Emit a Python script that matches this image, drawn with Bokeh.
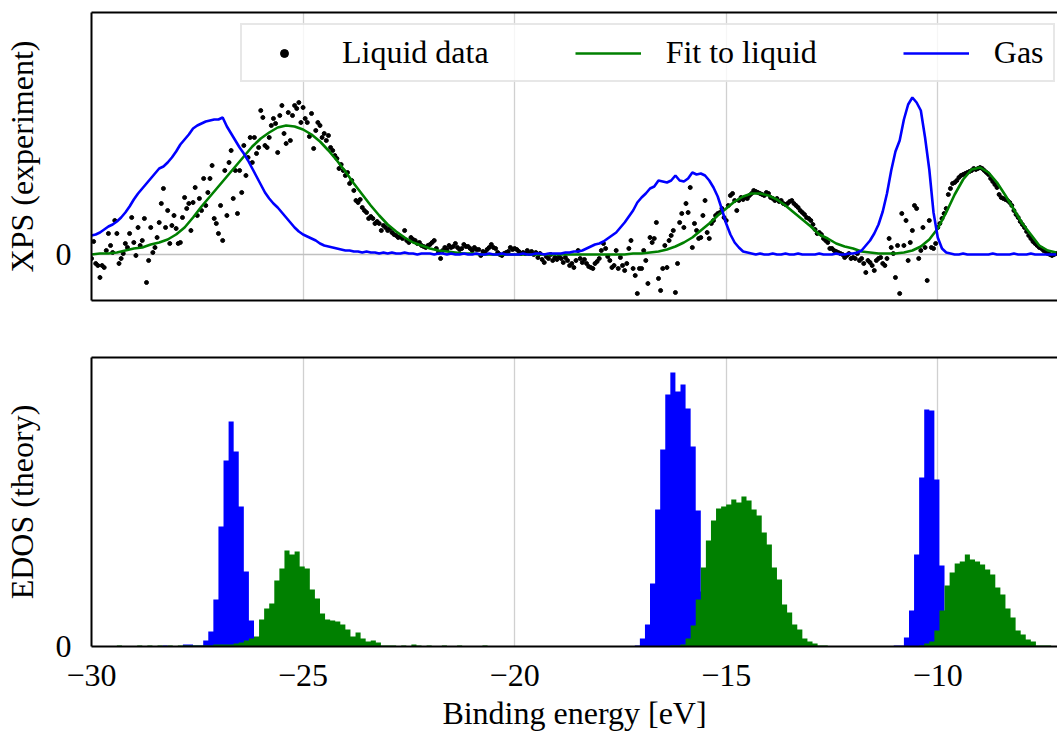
import numpy as np
from bokeh.plotting import figure
from bokeh.models import Range1d, FixedTicker, LinearAxis, Legend, LegendItem, ColumnDataSource
from bokeh.layouts import column
from bokeh.embed import file_html
from bokeh.resources import INLINE

FONT = "'Liberation Serif', 'DejaVu Serif', serif"
FS = "32px"

# ---------------- data ----------------
x_ticks = [-30, -25, -20, -15, -10]
x_tick_labels = ["\u221230", "\u221225", "\u221220", "\u221215", "\u221210"]
X_START, X_END = -30.0, -7.17

# liquid XPS data, energy grid -30.00 ... -7.20 eV, step 0.05 eV (one row = 1 eV)
liquid_start, liquid_step = -30.0, 0.05
liquid_y = [
    -0.04, 0.13, -0.09, -0.11, -0.23, -0.11, -0.13, 0.04, 0.21, 0.09, 0.02, 0.34, 0.21, -0.09, -0.04, 0.01, 0.11, 0.07, 0.21, 0.37,
    0.12, -0.01, 0.27, 0.09, 0.14, 0.36, -0.28, -0.06, 0.27, 0.02, 0.07, 0.17, 0.32, 0.51, 0.66, 0.27, 0.44, 0.11, 0.29, 0.39,
    0.26, 0.11, 0.12, 0.37, 0.57, 0.46, 0.51, 0.24, 0.52, 0.67, 0.39, 0.56, 0.44, 0.76, 0.49, 0.62, 0.76, 0.89, 0.36, 0.31,
    0.21, 0.49, 0.14, 0.84, 0.39, 0.92, 1.04, 0.56, 0.84, 0.41, 0.84, 0.62, 1.09, 0.79, 0.97, 1.17, 0.92, 1.17, 1.01, 1.07,
    1.44, 1.37, 1.09, 1.07, 1.17, 1.29, 1.36, 1.31, 1.02, 1.39, 1.49, 1.21, 1.11, 1.42, 1.14, 1.39, 1.49, 1.46, 1.52, 1.32,
    1.47, 1.36, 1.32, 1.18, 1.41, 1.06, 1.24, 1.32, 1.29, 1.17, 1.21, 1.14, 1.19, 1.07, 1.04, 0.99, 0.96, 0.86, 0.90, 0.84,
    0.79, 0.82, 0.71, 0.74, 0.64, 0.54, 0.52, 0.55, 0.47, 0.44, 0.42, 0.36, 0.38, 0.36, 0.31, 0.33, 0.31, 0.24, 0.29, 0.27,
    0.24, 0.26, 0.22, 0.20, 0.19, 0.17, 0.18, 0.16, 0.24, 0.14, 0.12, 0.17, 0.15, 0.14, 0.11, 0.12, 0.09, 0.08, 0.07, 0.09,
    0.10, 0.12, 0.14, 0.06, 0.02, -0.04, 0.04, 0.07, 0.05, 0.09, 0.07, 0.08, 0.11, 0.07, 0.05, 0.06, 0.10, 0.08, 0.08, 0.06,
    0.04, 0.07, 0.05, 0.05, -0.01, 0.03, 0.02, 0.05, 0.07, 0.10, 0.07, 0.06, 0.02, 0.00, -0.01, 0.01, 0.02, 0.03, 0.07, 0.05,
    0.06, 0.05, 0.03, 0.01, 0.02, 0.01, 0.04, 0.01, 0.03, 0.00, 0.02, -0.03, 0.01, -0.05, -0.08, -0.02, -0.04, 0.00, -0.06, -0.03,
    -0.05, -0.02, -0.04, -0.08, -0.03, -0.06, -0.11, -0.09, -0.13, -0.06, 0.04, -0.04, -0.08, -0.05, -0.09, -0.12, -0.13, -0.14, -0.09, -0.07,
    -0.04, 0.04, 0.11, 0.06, -0.02, -0.06, -0.13, -0.11, 0.04, -0.14, -0.03, -0.11, -0.16, -0.09, 0.06, 0.14, -0.14, -0.21, -0.39, -0.14,
    -0.14, 0.04, -0.06, -0.29, 0.17, 0.12, 0.16, 0.32, -0.24, -0.36, -0.14, 0.09, -0.13, 0.14, 0.19, 0.24, -0.38, -0.09, 0.32, 0.41,
    0.27, 0.51, 0.42, 0.67, 0.07, 0.31, 0.24, 0.16, 0.17, 0.39, 0.54, 0.22, 0.16, 0.31, 0.34, 0.39, 0.41, 0.42, 0.46, 0.37,
    0.34, 0.49, 0.59, 0.61, 0.54, 0.44, 0.54, 0.57, 0.55, 0.57, 0.56, 0.59, 0.61, 0.64, 0.63, 0.62, 0.61, 0.60, 0.59, 0.62,
    0.61, 0.57, 0.56, 0.54, 0.56, 0.53, 0.54, 0.51, 0.50, 0.51, 0.53, 0.54, 0.51, 0.49, 0.47, 0.44, 0.42, 0.40, 0.37, 0.36,
    0.34, 0.30, 0.25, 0.21, 0.22, 0.20, 0.16, 0.14, 0.12, 0.06, 0.06, 0.04, 0.03, 0.02, 0.01, 0.00, -0.03, -0.01, 0.01, -0.04,
    -0.03, -0.04, 0.01, -0.06, -0.04, -0.09, -0.18, -0.06, -0.08, -0.11, -0.16, -0.06, -0.04, -0.03, -0.09, -0.11, -0.04, 0.16, 0.07, 0.01,
    -0.23, 0.09, -0.39, 0.41, 0.09, 0.34, -0.06, 0.12, 0.24, 0.49, 0.46, -0.04, 0.04, 0.27, 0.07, -0.26, 0.34, 0.07, 0.06, 0.11,
    0.27, 0.31, 0.36, 0.41, 0.46, 0.60, 0.66, 0.71, 0.72, 0.74, 0.77, 0.79, 0.80, 0.81, 0.82, 0.83, 0.84, 0.86, 0.85, 0.86,
    0.87, 0.86, 0.84, 0.82, 0.80, 0.76, 0.73, 0.70, 0.67, 0.60, 0.57, 0.56, 0.55, 0.54, 0.52, 0.49, 0.44, 0.40, 0.37, 0.33,
    0.30, 0.27, 0.23, 0.19, 0.16, 0.13, 0.11, 0.09, 0.07, 0.06, 0.04, 0.03, 0.01, 0.00, -0.01, 0.00, 0.01,
]

# fit to liquid, grid -30.0 ... -7.2 eV, step 0.2 eV (one row = 2 eV)
fit_start, fit_step = -30.0, 0.2
fit_y = [
    0.00, 0.01, 0.01, 0.02, 0.04, 0.06, 0.07, 0.10, 0.12, 0.15,
    0.20, 0.27, 0.37, 0.48, 0.58, 0.68, 0.78, 0.88, 0.98, 1.08,
    1.16, 1.22, 1.27, 1.29, 1.28, 1.25, 1.20, 1.13, 1.04, 0.94,
    0.83, 0.71, 0.60, 0.49, 0.39, 0.30, 0.23, 0.17, 0.12, 0.09,
    0.06, 0.04, 0.03, 0.02, 0.01, 0.01, 0.00, 0.00, 0.00, 0.00,
    0.00, 0.00, 0.00, 0.00, 0.00, 0.00, 0.00, 0.00, 0.00, 0.00,
    0.00, 0.00, 0.00, 0.00, 0.01, 0.01, 0.02, 0.03, 0.05, 0.08,
    0.12, 0.17, 0.24, 0.31, 0.39, 0.46, 0.53, 0.58, 0.61, 0.61,
    0.59, 0.55, 0.49, 0.42, 0.35, 0.28, 0.20, 0.16, 0.11, 0.08,
    0.06, 0.03, 0.02, 0.01, 0.01, 0.01, 0.02, 0.04, 0.08, 0.15,
    0.26, 0.42, 0.60, 0.75, 0.85, 0.87, 0.82, 0.72, 0.59, 0.45,
    0.31, 0.20, 0.09, 0.04, 0.02,
]

# gas-phase spectrum, grid -30.0 ... -7.2 eV, step 0.1 eV (one row = 1 eV)
gas_start, gas_step = -30.0, 0.1
gas_y = [
    0.19, 0.20, 0.22, 0.25, 0.28, 0.30, 0.33, 0.37, 0.42, 0.48,
    0.55, 0.61, 0.66, 0.71, 0.76, 0.81, 0.86, 0.88, 0.92, 0.97,
    1.03, 1.10, 1.15, 1.20, 1.26, 1.29, 1.31, 1.33, 1.34, 1.35,
    1.35, 1.37, 1.28, 1.21, 1.14, 1.07, 1.01, 0.94, 0.86, 0.78,
    0.70, 0.62, 0.56, 0.51, 0.47, 0.42, 0.37, 0.32, 0.27, 0.23,
    0.20, 0.18, 0.16, 0.14, 0.11, 0.09, 0.08, 0.07, 0.06, 0.05,
    0.04, 0.04, 0.03, 0.03, 0.02, 0.03, 0.02, 0.02, 0.01, 0.02,
    0.01, 0.02, 0.01, 0.01, 0.02, 0.01, 0.01, 0.00, 0.01, 0.01,
    0.01, 0.00, 0.01, 0.01, 0.00, 0.01, 0.00, 0.00, 0.01, 0.00,
    0.00, 0.01, 0.00, 0.00, 0.01, 0.00, 0.00, 0.01, 0.00, 0.00,
    0.00, 0.00, 0.01, 0.00, 0.00, 0.01, 0.01, 0.00, 0.01, 0.01,
    0.01, 0.01, 0.02, 0.02, 0.03, 0.03, 0.04, 0.06, 0.08, 0.10,
    0.11, 0.13, 0.16, 0.19, 0.22, 0.27, 0.32, 0.38, 0.44, 0.52,
    0.57, 0.61, 0.66, 0.68, 0.74, 0.73, 0.72, 0.74, 0.79, 0.74,
    0.73, 0.76, 0.82, 0.80, 0.81, 0.79, 0.74, 0.67, 0.58, 0.45,
    0.31, 0.20, 0.12, 0.07, 0.03, 0.02, 0.01, 0.00, 0.01, 0.00,
    0.00, 0.01, 0.00, 0.00, 0.01, 0.00, 0.00, 0.01, 0.00, 0.00,
    0.00, 0.00, 0.01, 0.00, 0.00, 0.00, 0.01, 0.00, 0.00, 0.01,
    0.01, 0.02, 0.04, 0.09, 0.14, 0.21, 0.30, 0.43, 0.61, 0.84,
    1.03, 1.14, 1.35, 1.50, 1.57, 1.52, 1.44, 1.17, 0.85, 0.42,
    0.17, 0.06, 0.02, 0.01, 0.00, 0.00, 0.01, 0.00, 0.00, 0.00,
    0.00, 0.00, 0.00, 0.01, 0.00, 0.00, 0.00, 0.00, 0.01, 0.00,
    0.00, 0.00, 0.01, 0.00, 0.00, 0.00, 0.00, 0.00, 0.00,
]

# theoretical EDOS histograms, bins of 0.12 eV starting at -30 eV (one row = 10 bins)
bin_start, bin_width = -30.0, 0.12
edos_gas = [
    0, 0, 0, 0, 0, 0, 0, 0, 0, 0,
    0, 0, 0, 0, 1, 0, 0, 0, 2, 2,
    1, 1, 6, 15, 47, 120, 186, 225, 195, 140,
    75, 26, 8, 3, 1, 0, 0, 0, 0, 0,
    0, 0, 0, 0, 0, 0, 0, 0, 0, 0,
    0, 0, 0, 0, 0, 0, 0, 0, 0, 0,
    0, 0, 0, 0, 0, 0, 0, 0, 0, 0,
    0, 0, 0, 0, 0, 0, 0, 0, 0, 0,
    0, 0, 0, 0, 0, 0, 0, 0, 0, 0,
    0, 0, 0, 0, 0, 0, 0, 0, 0, 0,
    0, 0, 0, 0, 0, 0, 0, 1, 8, 22,
    63, 137, 197, 252, 274, 255, 262, 238, 200, 136,
    55, 15, 4, 1, 0, 0, 0, 0, 0, 0,
    0, 0, 0, 0, 0, 0, 0, 0, 0, 0,
    0, 0, 0, 0, 0, 0, 0, 0, 0, 0,
    0, 0, 0, 0, 0, 0, 0, 0, 1, 1,
    9, 36, 92, 169, 237, 236, 167, 81, 25, 6,
    1, 0, 0, 0, 0, 0, 0, 0, 0, 0,
    0, 0, 0, 0, 0, 0, 0, 0, 0, 0,
    0,
]
edos_liquid = [
    0, 0, 0, 0, 0, 1, 0, 0, 0, 1,
    0, 1, 0, 1, 0, 1, 0, 1, 1, 1,
    1, 1, 1, 1, 2, 2, 2, 2, 3, 4,
    6, 8, 10, 27, 38, 43, 66, 78, 96, 92,
    95, 80, 78, 57, 48, 33, 27, 26, 25, 22,
    17, 10, 14, 8, 5, 6, 4, 1, 1, 1,
    0, 1, 0, 2, 1, 0, 1, 0, 0, 1,
    0, 0, 1, 0, 0, 0, 0, 1, 0, 0,
    0, 0, 0, 0, 0, 0, 0, 0, 0, 0,
    0, 0, 0, 0, 0, 0, 0, 0, 0, 0,
    0, 0, 0, 0, 0, 0, 0, 0, 0, 0,
    0, 0, 0, 0, 1, 1, 2, 8, 21, 47,
    79, 106, 126, 138, 140, 142, 147, 144, 150, 146,
    137, 131, 114, 102, 79, 67, 42, 34, 22, 17,
    8, 5, 3, 1, 1, 0, 0, 0, 0, 0,
    0, 0, 0, 0, 0, 0, 0, 0, 0, 0,
    0, 0, 0, 1, 3, 5, 16, 36, 61, 74,
    83, 85, 92, 87, 85, 82, 77, 72, 59, 52,
    38, 29, 16, 12, 7, 5, 1, 1, 1, 0,
    0,
]

# ---------------- helpers ----------------
def style_axis(ax):
    ax.axis_line_color = "black"
    ax.axis_line_width = 2
    ax.major_tick_line_color = None
    ax.minor_tick_line_color = None
    ax.major_tick_in = 0
    ax.major_tick_out = 0
    ax.minor_tick_in = 0
    ax.minor_tick_out = 0
    ax.major_label_text_font = FONT
    ax.major_label_text_font_size = FS
    ax.major_label_text_color = "black"
    ax.axis_label_text_font = FONT
    ax.axis_label_text_font_size = FS
    ax.axis_label_text_font_style = "normal"
    ax.axis_label_text_color = "black"


def make_fig(height, top_border, bottom_border, y0, y1, show_x_labels):
    p = figure(width=1057, height=height,
               x_range=Range1d(X_START, X_END), y_range=Range1d(y0, y1),
               output_backend="svg", toolbar_location=None, tools="",
               min_border_left=89, min_border_right=0,
               min_border_top=top_border, min_border_bottom=bottom_border)
    p.outline_line_color = None
    p.background_fill_color = "white"
    p.border_fill_color = "white"

    # top frame edge drawn as a bare axis line
    top_axis = LinearAxis(ticker=FixedTicker(ticks=[]))
    style_axis(top_axis)
    top_axis.major_label_standoff = 0
    p.add_layout(top_axis, "above")

    xa = p.below[0]
    style_axis(xa)
    if show_x_labels:
        xa.ticker = FixedTicker(ticks=x_ticks)
        xa.major_label_overrides = dict(zip(x_ticks, x_tick_labels))
        xa.major_label_standoff = 18
        xa.axis_label_standoff = 6
    else:
        xa.ticker = FixedTicker(ticks=[])
        xa.major_label_standoff = 0

    ya = p.left[0]
    ya.ticker = FixedTicker(ticks=[0])
    ya.major_label_overrides = {0: "0"}
    style_axis(ya)
    ya.major_label_standoff = 20
    ya.axis_label_standoff = 13

    p.xgrid.ticker = FixedTicker(ticks=x_ticks)
    p.xgrid.grid_line_color = "#d0d0d0"
    p.xgrid.grid_line_width = 1.3
    return p

# ---------------- top panel: XPS ----------------
liquid_x = liquid_start + liquid_step * np.arange(len(liquid_y))
fit_x = fit_start + fit_step * np.arange(len(fit_y))
gas_x = gas_start + gas_step * np.arange(len(gas_y))

p1 = make_fig(320, 12, 20, -0.46, 2.42, False)
p1.left[0].axis_label = "XPS (experiment)"
p1.ygrid.ticker = FixedTicker(ticks=[0])
p1.ygrid.grid_line_color = "#c0c0c0"
p1.ygrid.grid_line_width = 1.3

r_liq = p1.scatter(liquid_x, liquid_y, size=4, color="black", marker="circle")
r_fit = p1.line(fit_x, fit_y, line_color="#008000", line_width=2.6)
r_gas = p1.line(gas_x, gas_y, line_color="#0000ff", line_width=2.6)

legend = Legend(items=[LegendItem(label="Liquid data", renderers=[r_liq]),
                       LegendItem(label="Fit to liquid", renderers=[r_fit]),
                       LegendItem(label="Gas", renderers=[r_gas])],
                orientation="horizontal", location=(149, 218),
                glyph_width=66, glyph_height=20, label_standoff=25, spacing=86,
                padding=9, margin=0,
                label_text_font=FONT, label_text_font_size=FS, label_text_color="black",
                border_line_color="#d0d0d0", border_line_width=2,
                background_fill_color="white", background_fill_alpha=0.8)
p1.add_layout(legend)

# ---------------- bottom panel: EDOS ----------------
edges = bin_start + bin_width * np.arange(len(edos_gas) + 1)
src = ColumnDataSource(dict(x=edges,
                            gas=list(edos_gas) + [edos_gas[-1]],
                            liq=list(edos_liquid) + [edos_liquid[-1]],
                            zero=np.zeros(len(edges))))

p2 = make_fig(413, 37, 87, 0, 289, True)
p2.left[0].axis_label = "EDOS (theory)"
p2.below[0].axis_label = "Binding energy [eV]"
p2.ygrid.grid_line_color = None

p2.varea_step(x="x", y1="zero", y2="gas", step_mode="after", source=src, fill_color="#0000ff")
p2.varea_step(x="x", y1="zero", y2="liq", step_mode="after", source=src, fill_color="#008000")

layout = column(p1, p2, spacing=0)
open("out.html", "w").write(file_html(layout, INLINE))
